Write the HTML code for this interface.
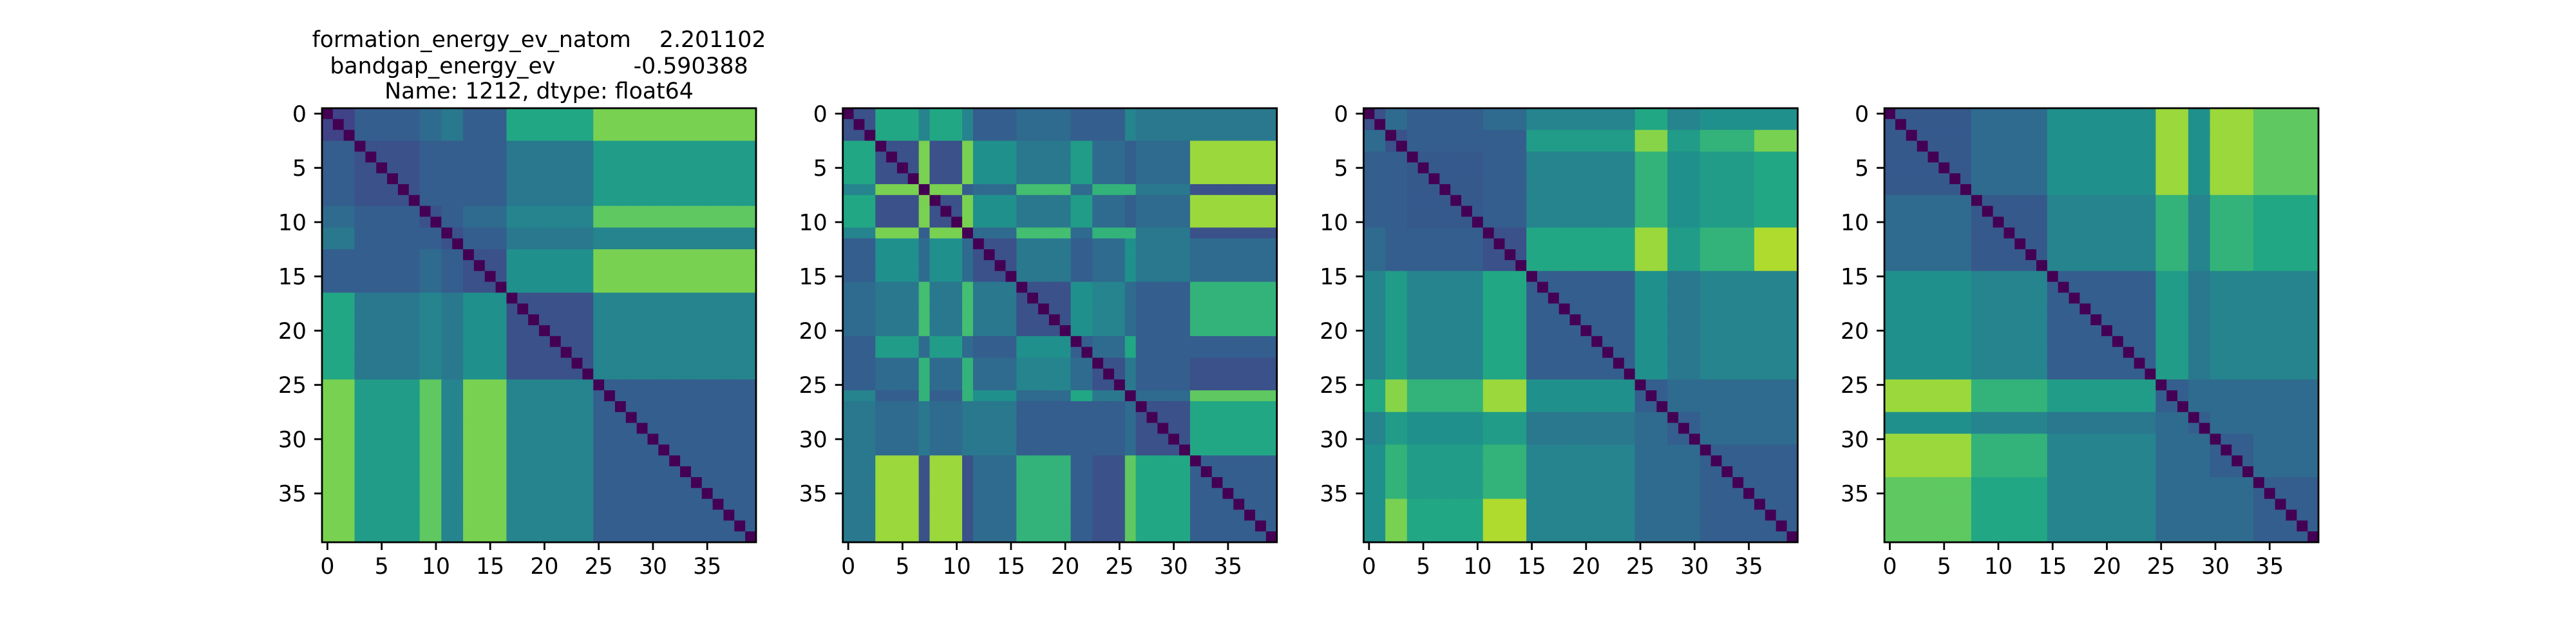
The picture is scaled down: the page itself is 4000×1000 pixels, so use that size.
<!DOCTYPE html>
<html><head><meta charset="utf-8"><style>
html,body{margin:0;padding:0;background:#fff;width:4000px;height:1000px;overflow:hidden}
svg text{font-family:"DejaVu Sans","Liberation Sans",sans-serif;font-size:34.7px;fill:#000}
</style></head><body>
<svg id="fig" width="4000" height="1000" viewBox="0 0 4000 1000" xmlns="http://www.w3.org/2000/svg">
<rect width="4000" height="1000" fill="#fff"/>
<text x="837" y="73" text-anchor="middle" xml:space="preserve" style="white-space:pre">formation_energy_ev_natom    2.201102</text>
<text x="837" y="114" text-anchor="middle" xml:space="preserve" style="white-space:pre">bandgap_energy_ev           -0.590388</text>
<text x="837" y="153" text-anchor="middle">Name: 1212, dtype: float64</text>
</svg>
<script>
// Panel group assignments (index -> group id) and group-pair levels (upper triangle rows)
const p1Groups = [0,0,0,1,1,1,1,1,1,2,2,3,3,4,4,4,4,5,5,5,5,5,5,5,5,6,6,6,6,6,6,6,6,6,6,6,6,6,6,6];
const p1Levels = [
 [.20,.30,.35,.40,.30,.60,.80],
 [.25,.30,.30,.30,.40,.55],
 [.25,.30,.35,.45,.75],
 [.25,.30,.40,.45],
 [.25,.50,.80],
 [.25,.45],
 [.30]];
const p2Groups = [0,0,0,1,1,1,1,2,1,1,1,2,3,3,3,3,4,4,4,4,4,5,5,6,6,6,7,8,8,8,8,8,9,9,9,9,9,9,9,9];
const p2Levels = [
 [.25,.60,.45,.30,.35,.30,.30,.45,.40,.40],
 [.25,.80,.50,.40,.55,.35,.30,.35,.85],
 [.30,.35,.70,.35,.65,.65,.40,.25],
 [.25,.40,.30,.35,.50,.40,.35],
 [.25,.50,.45,.35,.30,.65],
 [.30,.35,.60,.30,.30],
 [.25,.40,.30,.25],
 [.00,.35,.75],
 [.25,.60],
 [.30]];
const p3Groups = [0,0,1,1,2,2,2,2,2,2,2,3,3,3,3,4,4,4,4,4,4,4,4,4,4,5,5,5,6,6,6,7,7,7,7,7,8,8,8,8];
const p3Levels = [
 [.25,.35,.30,.35,.45,.60,.45,.50,.50],
 [.25,.30,.30,.55,.82,.55,.65,.80],
 [.28,.30,.45,.65,.50,.55,.60],
 [.25,.60,.85,.55,.65,.88],
 [.30,.50,.40,.45,.45],
 [.30,.35,.35,.35],
 [.30,.35,.35],
 [.30,.30],
 [.30]];
const p4Groups = [0,0,0,0,0,0,0,0,1,1,1,1,1,1,1,2,2,2,2,2,2,2,2,2,2,3,3,3,4,4,5,5,5,5,6,6,6,6,6,6];
const p4Levels = [
 [.28,.35,.50,.85,.50,.85,.75],
 [.28,.45,.65,.45,.65,.60],
 [.30,.55,.40,.45,.45],
 [.30,.35,.35,.35],
 [.30,.35,.35],
 [.30,.35],
 [.30]];
const tickLabels = ["0","5","10","15","20","25","30","35"];
const tickValues = [0,5,10,15,20,25,30,35];

const panels = [[p1Groups,p1Levels],[p2Groups,p2Levels],[p3Groups,p3Levels],[p4Groups,p4Levels]];
const VIR = [[68,1,84],[72,35,116],[64,67,135],[52,94,141],[41,120,142],[32,144,140],[34,167,132],[68,190,112],[121,209,81],[189,222,38],[253,231,37]];
function viridis(t){t=Math.max(0,Math.min(1,t));const f=t*10,i=Math.min(9,Math.floor(f)),r=f-i;
 const a=VIR[i],b=VIR[i+1];return `rgb(${Math.round(a[0]+(b[0]-a[0])*r)},${Math.round(a[1]+(b[1]-a[1])*r)},${Math.round(a[2]+(b[2]-a[2])*r)})`;}
function level(L,g,h){const a=Math.min(g,h),b=Math.max(g,h);return L[a][b-a];}
const NS="http://www.w3.org/2000/svg";
const svg=document.getElementById('fig');
const lefts=[500,1308.7,2117.4,2926.1], topY=168, size=674, n=40, cell=size/n;
function mk(tag,attrs){const e=document.createElementNS(NS,tag);for(const k in attrs)e.setAttribute(k,attrs[k]);return e;}
panels.forEach((p,pi)=>{
 const G=p[0], L=p[1]; const x0=lefts[pi];
 const g=mk('g',{});
 
 
 svg.appendChild(g);
 const xs=i=>x0+i*cell, ys=j=>topY+j*cell;
 for(let r=0;r<n;r++)for(let c=0;c<n;c++){
  const v=r===c?0:level(L,G[r],G[c]);
  const rc=mk('rect',{x:xs(c).toFixed(2),y:ys(r).toFixed(2),width:(cell+0.6).toFixed(2),height:(cell+0.6).toFixed(2),fill:viridis(v)});
  
  
  g.appendChild(rc);
 }
 const fr=mk('rect',{x:x0,y:topY,width:size,height:size,fill:'none',stroke:'#000','stroke-width':2.8});
 
 
 g.appendChild(fr);
 tickValues.forEach((tv,k)=>{
  const cx=xs(tv+0.5), cy=ys(tv+0.5);
  const xt=mk('line',{x1:cx,y1:topY+size,x2:cx,y2:topY+size+12,stroke:'#000','stroke-width':2.8});
  
  
  g.appendChild(xt);
  const xl=mk('text',{x:cx,y:topY+size+24+25,'text-anchor':'middle'});xl.textContent=tickLabels[k];
  
  
  g.appendChild(xl);
  const yt=mk('line',{x1:x0-12,y1:cy,x2:x0,y2:cy,stroke:'#000','stroke-width':2.8});
  
  
  g.appendChild(yt);
  const yl=mk('text',{x:x0-24,y:cy+12.5,'text-anchor':'end'});yl.textContent=tickLabels[k];
  
  
  g.appendChild(yl);
 });
});
</script>
</body></html>
